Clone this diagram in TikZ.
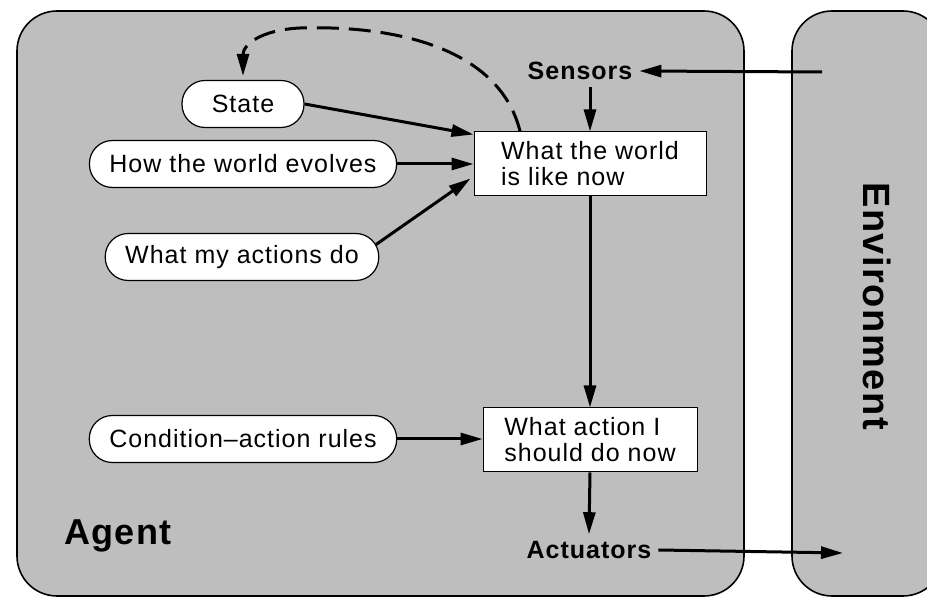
\documentclass[tikz,border=0pt]{standalone}
\usepackage{fontspec}
\setmainfont{Liberation Sans}[LetterSpace=4]
\usetikzlibrary{positioning,arrows.meta,calc}
\definecolor{panelgray}{HTML}{BEBEBE}

\begin{document}
\begin{tikzpicture}[
    x=0.5pt, y=-0.5pt,
    panel/.style={draw, line width=0.8pt, fill=panelgray, rounded corners=20pt},
    pill/.style={rectangle, draw, line width=0.6pt, fill=white, rounded corners=11.5pt,
                 minimum height=23.5pt, minimum width=61pt, inner xsep=10pt,
                 font=\fontsize{12.5}{15}\selectfont},
    block/.style={rectangle, draw, line width=0.5pt, fill=white, align=left,
                  minimum height=32pt, font=\fontsize{12.5}{13}\selectfont},
    tag/.style={font=\bfseries\fontsize{12.5}{15}\selectfont},
    arrow/.style={-{Triangle[length=11pt, width=6pt]}, line width=1.5pt},
]
  \useasboundingbox (0,0) rectangle (927,597);
  \clip (0,0) rectangle (927,597);
  \path[panel] (17,11) rectangle (744,596);
  \path[panel] (792,11) rectangle (943,596);

  \node[font=\bfseries\fontsize{18}{20}\selectfont] (agent) at (118,536) {Agent};
  \node[font=\bfseries\fontsize{19}{21}\selectfont, rotate=-90] (env) at (877,306) {Environment};

  \node[block, minimum width=116pt] (world) at (590,164) {What the world\\is like now};
  \node[block, minimum width=107pt] (action) at (590,440) {What action I\\should do now};
  \node[tag] (sensors) at (580,71) {Sensors};
  \node[tag] (actuators) at (589,550) {Actuators};

  \node[pill] (state) at (243,104) {State};
  \node[pill] (evolve) at (243,164) {How the world evolves};
  \node[pill] (effects) at (242,257) {What my actions do};
  \node[pill] (rules) at (243,439) {Condition--action rules};

  \coordinate (percept) at (822,72);
  \coordinate (act) at (843,553);

  \draw[arrow] (percept) -- (sensors.east);
  \draw[arrow] (sensors.south -| world.north) -- (world.north);
  \draw[arrow] (state.east) -- ($(world.north west)+(0,3)$);
  \draw[arrow] (evolve.east) -- (evolve.east -| world.west);
  \draw[arrow] ($(effects.east)+(-4,-12)$) -- ($(world.south west)+(-3,-18)$);
  \draw[arrow, dash pattern=on 11pt off 5pt, shorten >=2pt]
    ($(world.north west)!0.2!(world.north east)$) .. controls (500,50) and (400,25) .. (300,28)
    .. controls (260,30) and (243,45) .. (state.north);
  \draw[arrow] (world.south) -- (action.north);
  \draw[arrow] (rules.east) -- (rules.east -| action.west);
  \draw[arrow] (action.south) -- (actuators.north);
  \draw[arrow] (actuators.east) -- (act);
\end{tikzpicture}
\end{document}
